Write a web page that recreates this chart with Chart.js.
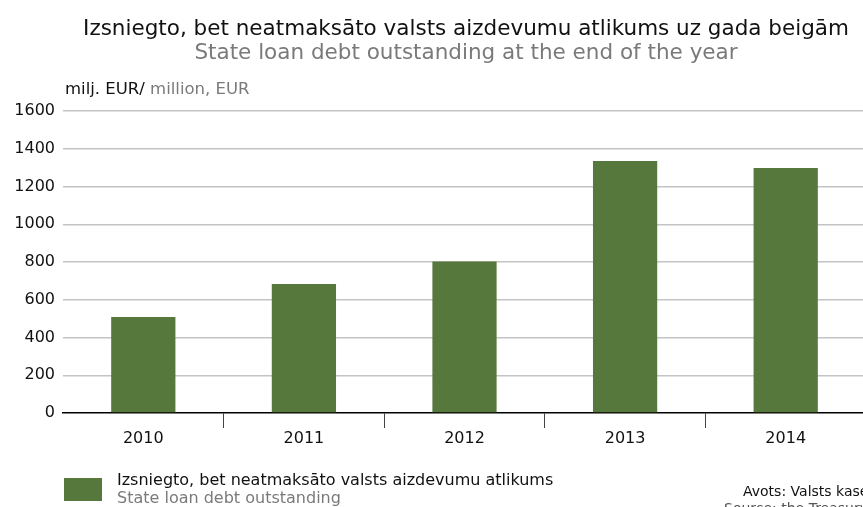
<!DOCTYPE html>
<html>
<head>
<meta charset="utf-8">
<script src="https://cdn.jsdelivr.net/npm/chart.js@4/dist/chart.umd.min.js"></script>
<style>
  html, body { margin: 0; padding: 0; background: #fff; overflow: hidden; }
  #wrap { width: 880px; height: 507px; position: relative; }
</style>
</head>
<body>
<div id="wrap"><canvas id="grafiks"></canvas></div>
<script>
// dati
const gadi = ["2010", "2011", "2012", "2013", "2014"];
const atlikums = [509, 684, 802, 1335, 1298];
const yMax = 1600;
const ySolis = 200;

const virsraksts = "Izsniegto, bet neatmaksāto valsts aizdevumu atlikums uz gada beigām";
const apaksvirsraksts = "State loan debt outstanding at the end of the year";
const leģendaLV = "Izsniegto, bet neatmaksāto valsts aizdevumu atlikums";
const leģendaEN = "State loan debt outstanding";

const zals = "#56783c";
const fonts = "'DejaVu Sans', Verdana, sans-serif";

// teksti ap grafiku
const tekstiPlugin = {
  id: "teksti",
  afterDraw(chart) {
    const ctx = chart.ctx;
    ctx.save();
    ctx.textBaseline = "middle";

    ctx.font = "21.5px " + fonts;
    ctx.textAlign = "center";
    ctx.fillStyle = "#111";
    ctx.fillText(virsraksts, 466, 29);
    ctx.fillStyle = "#7a7a7a";
    ctx.fillText(apaksvirsraksts, 466, 53);

    ctx.textAlign = "left";
    ctx.font = "16.5px " + fonts;
    ctx.fillStyle = "#111";
    ctx.fillText("milj. EUR/", 65, 90);
    const w = ctx.measureText("milj. EUR/ ").width;
    ctx.fillStyle = "#7a7a7a";
    ctx.fillText("million, EUR", 65 + w, 90);

    ctx.fillStyle = zals;
    ctx.fillRect(64, 478, 38, 23);
    ctx.font = "16px " + fonts;
    ctx.fillStyle = "#111";
    ctx.fillText(leģendaLV, 117, 481);
    ctx.fillStyle = "#7a7a7a";
    ctx.fillText(leģendaEN, 117, 499);

    ctx.font = "14px " + fonts;
    ctx.fillStyle = "#111";
    ctx.fillText("Avots: Valsts kase", 743, 492);
    ctx.fillStyle = "#555";
    ctx.fillText("Source: the Treasury", 724, 509);
    ctx.restore();
  }
};

new Chart("grafiks", {
  type: "bar",
  data: {
    labels: gadi,
    datasets: [{
      data: atlikums,
      backgroundColor: zals,
      categoryPercentage: 1,
      barPercentage: 0.4
    }]
  },
  options: {
    responsive: true,
    maintainAspectRatio: false,
    animation: false,
    layout: { padding: { top: 111, right: 14, left: 0, bottom: 0 } },
    plugins: {
      legend: { display: false },
      tooltip: { enabled: false }
    },
    scales: {
      x: {
        grid: {
          drawOnChartArea: false,
          drawTicks: true,
          tickLength: 15,
          color: (c) => (c.index === 0 ? "rgba(0,0,0,0)" : "#444")
        },
        border: { color: "#000", width: 1.5 },
        ticks: { color: "#111", font: { family: fonts, size: 16 }, padding: 1 },
        afterFit: (s) => { s.height = 94; }
      },
      y: {
        min: 0,
        max: yMax,
        ticks: {
          stepSize: ySolis,
          color: "#111",
          font: { family: fonts, size: 16 },
          padding: 8,
          callback: (v) => String(v)
        },
        grid: {
          drawTicks: false,
          color: (c) => (c.tick.value === 0 ? "rgba(0,0,0,0)" : "#c4c4c4"),
          lineWidth: 1.5
        },
        border: { display: false },
        afterFit: (s) => { s.width = 63; }
      }
    }
  },
  plugins: [tekstiPlugin]
});
</script>
</body>
</html>
